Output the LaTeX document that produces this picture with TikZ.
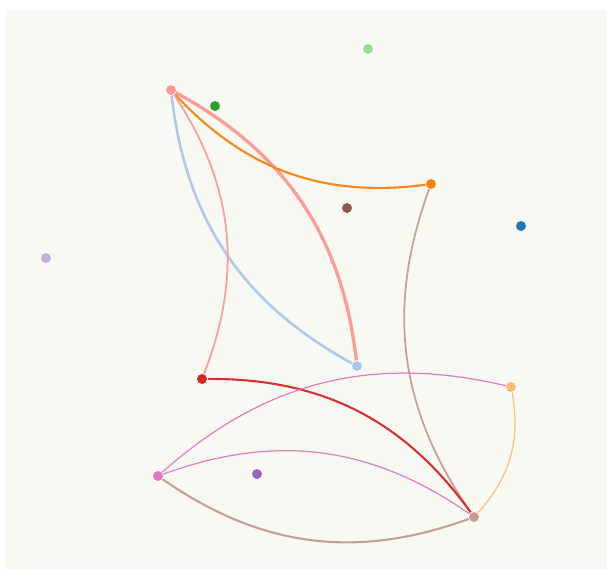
\documentclass[tikz,border=0pt]{standalone}
\usepackage{tikz}
\pgfdeclarelayer{back}
\pgfdeclarelayer{links}
\pgfsetlayers{back,links,main}

\definecolor{bgc}{HTML}{F9F9F4}
\definecolor{cblue}{HTML}{1F77B4}
\definecolor{clblue}{HTML}{AEC7E8}
\definecolor{corange}{HTML}{FF7F0E}
\definecolor{clorange}{HTML}{FFBB78}
\definecolor{cgreen}{HTML}{2CA02C}
\definecolor{clgreen}{HTML}{98DF8A}
\definecolor{cred}{HTML}{D62728}
\definecolor{clred}{HTML}{FF9896}
\definecolor{cpurple}{HTML}{9467BD}
\definecolor{clpurple}{HTML}{C5B0D5}
\definecolor{cbrown}{HTML}{8C564B}
\definecolor{clbrown}{HTML}{C49C94}
\definecolor{cpink}{HTML}{E377C2}

\begin{document}
\begin{tikzpicture}[x=0.02cm, y=-0.02cm, dot/.style={circle, inner sep=0pt, minimum size=0.22cm, draw=white, line width=0.4pt}, lk/.style={line cap=round, opacity=0.95}]
	\useasboundingbox (0,0) rectangle (607,569);
	\begin{pgfonlayer}{back}
	\fill[bgc] (6,10) rectangle (607,569);
	\end{pgfonlayer}
	\node[dot, fill=clred] (nlred) at (171,90) {};
	\node[dot, fill=cgreen] (ngreen) at (215,106) {};
	\node[dot, fill=clgreen] (nlgreen) at (368,49) {};
	\node[dot, fill=corange] (norange) at (431,184) {};
	\node[dot, fill=cbrown] (nbrown) at (347,208) {};
	\node[dot, fill=cblue] (nblue) at (521,226) {};
	\node[dot, fill=clpurple] (nlpurple) at (46,258) {};
	\node[dot, fill=clblue] (nlblue) at (357,366) {};
	\node[dot, fill=cred] (nred) at (202,379) {};
	\node[dot, fill=clorange] (nlorange) at (511,387) {};
	\node[dot, fill=cpink] (npink) at (158,476) {};
	\node[dot, fill=cpurple] (npurple) at (257,474) {};
	\node[dot, fill=clbrown] (nlbrown) at (474,517) {};
	\begin{pgfonlayer}{links}
	\foreach \a/\b/\c/\w/\ang in {nlred/nlblue/clred/1.9/28, nlblue/nlred/clblue/1.5/28, nlred/norange/corange/1.2/-28, nlred/nred/clred/1/28, norange/nlbrown/clbrown/1/-28, nred/nlbrown/cred/1.2/28, npink/nlorange/cpink/0.7/28, npink/nlbrown/cpink/0.7/28, npink/nlbrown/clbrown/1.2/-28, nlorange/nlbrown/clorange/0.7/28} {\draw[lk, draw=\c, line width=\w pt] (\a.center) to[bend left=\ang] (\b.center);}
	\end{pgfonlayer}
\end{tikzpicture}
\end{document}
